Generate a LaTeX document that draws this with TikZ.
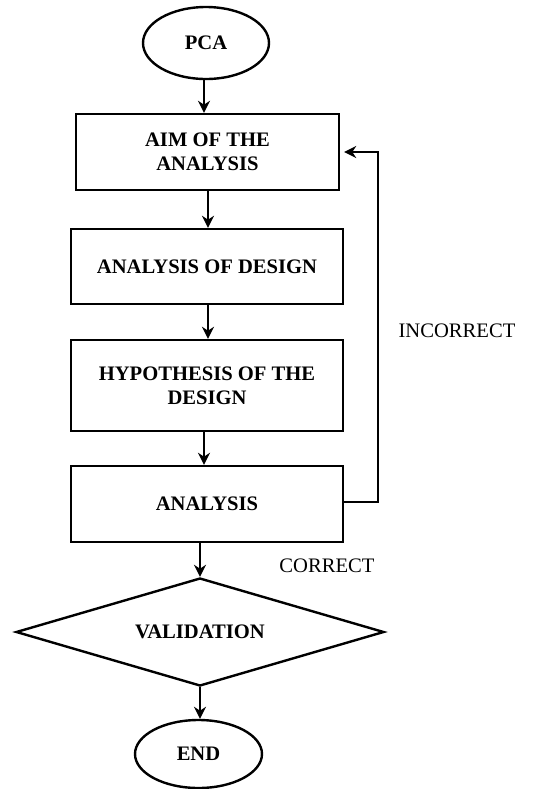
\documentclass[tikz,border=0pt]{standalone}
\usepackage{fontspec}
\setmainfont{Liberation Serif}
\usetikzlibrary{shapes.geometric,arrows.meta}

\begin{document}
\begin{tikzpicture}[->,>={Stealth[length=6pt,width=6pt]},x=0.5pt,y=-0.5pt,line width=1.2pt,font=\fontsize{10.3}{12}\selectfont\bfseries]
                \tikzset{
                    box/.style={draw,rectangle,align=center,minimum width=136pt},
                    term/.style={draw,ellipse,inner sep=0pt},
                    decide/.style={draw,diamond,aspect=3.4,inner sep=0pt,minimum width=184pt,minimum height=54pt},
                    lbl/.style={font=\fontsize{10.3}{12}\selectfont\mdseries}
                }
                \useasboundingbox (0,0) rectangle (543,789);
                \node[term,minimum width=63pt,minimum height=36pt] (pca) at (206,43) {PCA};
                \node[box,minimum width=131.5pt,minimum height=38pt] (aim) at (207.5,152) {AIM OF THE\\ANALYSIS};
                \node[box,minimum height=37.5pt] (aod) at (207,266.5) {ANALYSIS OF DESIGN};
                \node[box,minimum height=45.5pt] (hyp) at (207,385.5) {HYPOTHESIS OF THE\\DESIGN};
                \node[box,minimum height=38pt] (ana) at (207,504) {ANALYSIS};
                \node[decide] (val) at (200,632) {VALIDATION};
                \node[term,minimum width=63.5pt,minimum height=34pt] (fin) at (198.5,754) {END};
                \coordinate (loop) at (378,502);
                \draw (pca.south -| 204,0) -- (204,0 |- aim.north);
                \draw (aim.south -| 208,0) -- (208,0 |- aod.north);
                \draw (aod.south -| 208,0) -- (208,0 |- hyp.north);
                \draw (hyp.south -| 204,0) -- (204,0 |- ana.north);
                \draw (ana.south -| 200,0) -- (val.north);
                \draw (val.south) -- (val.south |- fin.north);
                \draw[shorten >=2pt] (ana.east |- loop) -- (loop) |- (aim.east);
                \node[lbl] (incorrect) at (457,331) {INCORRECT};
                \node[lbl] (correct) at (327,566) {CORRECT};
            \end{tikzpicture}
\end{document}
